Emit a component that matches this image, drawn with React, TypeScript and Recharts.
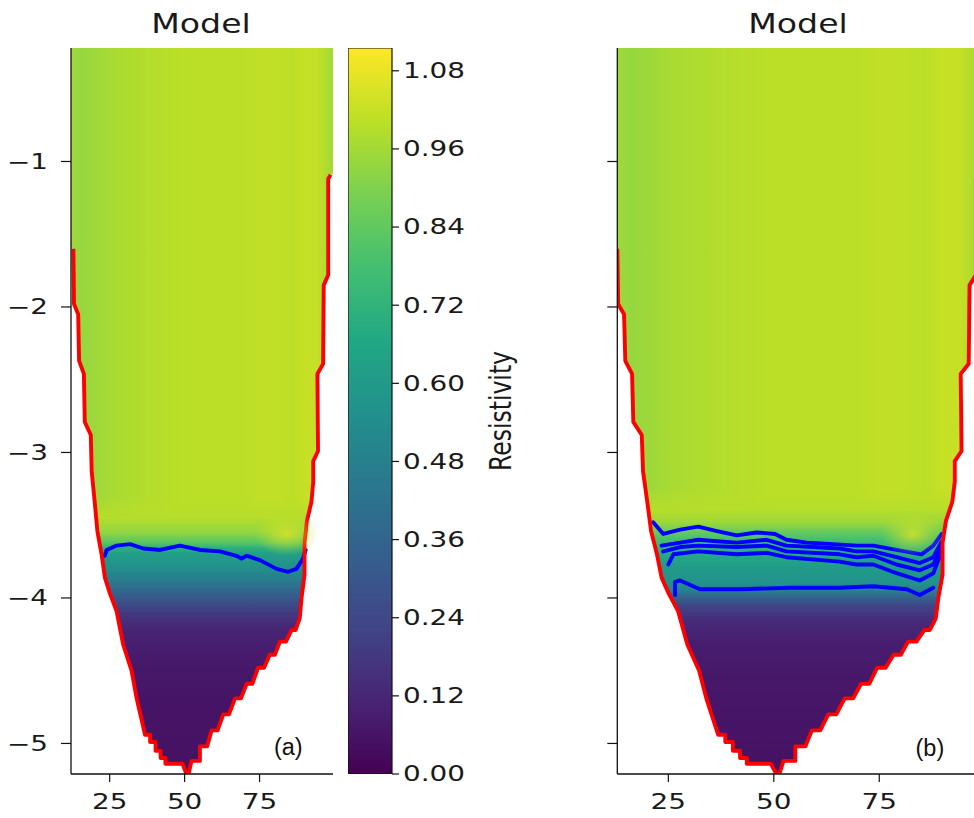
import React from 'react';
import { ComposedChart, BarChart, Bar, Area, Line, XAxis, YAxis, ReferenceDot } from 'recharts';

// ---------- colormap (viridis anchors) ----------
const VIRIDIS = ['#440154', '#482475', '#414487', '#355f8d', '#2a788e', '#21918c', '#22a884', '#44bf70', '#7ad151', '#bddf26', '#fde725'];
const CB_MAX = 1.115;

// ---------- axes ----------
const xTicks = [25, 50, 75];
const yTicks = [-5, -4, -3, -2, -1];
const cbTicks = [0, 0.12, 0.24, 0.36, 0.48, 0.6, 0.72, 0.84, 0.96, 1.08];
const DEPTH_TOP = -0.22;
const DEPTH_BOTTOM = -5.21;
const LEFT_X_DOMAIN: [number, number] = [12.1, 99.5];
const RIGHT_X_DOMAIN: [number, number] = [12.9, 100.3];
const panelTitles = ['Model', 'Model'];
const colorbarTitle = 'Resistivity';

// ---------- model boundary (red line) [x, depth] ----------
const leftEdge: [number, number][] = [
  [12.9, -1.6], [13.1, -1.98], [14.5, -2.05], [14.8, -2.37], [16.4, -2.46], [16.7, -2.79], [18.7, -2.88],
  [19.0, -3.13], [20.1, -3.36], [20.9, -3.54], [22.3, -3.7], [23.4, -3.86], [25.1, -3.97], [27.3, -4.09],
  [29.5, -4.32], [32.3, -4.5], [34.0, -4.69], [36.8, -4.94], [38.5, -4.94], [38.5, -4.99], [40.3, -4.99],
  [40.3, -5.05], [42.0, -5.05], [42.0, -5.1], [43.6, -5.1], [43.6, -5.14], [49.3, -5.14], [50.6, -5.21],
];
const rightEdge: [number, number][] = [
  [51.3, -5.21], [52.3, -5.12], [55.1, -5.12], [55.1, -5.02], [57.5, -5.02], [59.0, -4.91], [61.0, -4.91],
  [62.9, -4.8], [64.8, -4.8], [66.8, -4.69], [68.8, -4.69], [70.7, -4.59], [72.6, -4.59], [74.5, -4.48],
  [76.5, -4.48], [78.4, -4.39], [80.1, -4.39], [81.8, -4.3], [83.8, -4.3], [85.7, -4.22], [87.0, -4.22],
  [88.4, -4.14], [89.0, -4.0], [90.0, -3.84], [90.0, -3.62], [90.8, -3.47], [92.3, -3.34], [92.9, -3.2],
  [92.9, -3.06], [94.5, -2.99], [94.3, -2.46], [96.2, -2.39], [96.4, -1.85], [97.9, -1.78], [97.9, -1.12],
  [98.7, -1.09],
];

// ---------- contours (blue) ----------
const contourA: [number, number][] = [
  [23.4, -3.71], [24.0, -3.67], [27.3, -3.64], [31.8, -3.63], [36.2, -3.66], [41.8, -3.67], [48.4, -3.64],
  [55.1, -3.67], [61.8, -3.68], [67.3, -3.71], [69.0, -3.73], [70.7, -3.71], [75.1, -3.74], [80.7, -3.8],
  [84.5, -3.82], [87.3, -3.8], [89.5, -3.73], [90.4, -3.67],
];
const contourB1: [number, number][] = [
  [21.4, -3.48], [23.8, -3.56], [27.8, -3.53], [32.1, -3.51], [36.5, -3.54], [41.2, -3.57], [45.9, -3.55],
  [50.3, -3.56], [53.0, -3.6], [57.8, -3.62], [64.1, -3.63], [69.6, -3.64], [73.6, -3.64], [79.1, -3.67],
  [85.0, -3.7], [87.8, -3.64], [89.8, -3.56],
];
const contourB2: [number, number][] = [
  [23.4, -3.64], [27.8, -3.62], [32.1, -3.6], [36.5, -3.61], [41.2, -3.62], [48.3, -3.6], [53.0, -3.64],
  [59.3, -3.65], [65.6, -3.66], [69.6, -3.68], [73.6, -3.68], [79.1, -3.72], [84.6, -3.76], [87.8, -3.72],
  [89.8, -3.61],
];
const contourB3: [number, number][] = [
  [23.8, -3.68], [27.8, -3.65], [32.1, -3.64], [41.2, -3.65], [48.3, -3.64], [53.0, -3.68], [65.6, -3.7],
  [69.6, -3.72], [73.6, -3.71], [79.1, -3.77], [84.6, -3.81], [87.8, -3.77], [89.8, -3.64],
];
const contourB4: [number, number][] = [
  [25.0, -3.77], [26.2, -3.7], [32.1, -3.68], [41.2, -3.7], [48.3, -3.69], [53.0, -3.72], [65.6, -3.75],
  [69.6, -3.77], [73.6, -3.77], [79.1, -3.83], [84.6, -3.88], [87.8, -3.83], [89.8, -3.68],
];
const contourB5: [number, number][] = [
  [26.6, -3.98], [26.6, -3.89], [27.8, -3.88], [32.5, -3.94], [42.0, -3.94], [53.8, -3.93], [65.6, -3.93],
  [73.6, -3.92], [81.5, -3.94], [84.6, -3.98], [87.8, -3.93],
];

// ---------- resistivity field ----------
const lateralX = [12.1, 16, 20, 26, 32, 40, 50, 60, 70, 75, 80, 86, 90, 94, 97, 99.5];
const lateralRes = [0.95, 0.94, 0.95, 0.97, 0.98, 0.99, 1.0, 1.0, 1.0, 1.01, 1.01, 1.0, 1.02, 1.02, 0.98, 0.96];
const leftProfileDepth = [-3.3, -3.45, -3.55, -3.62, -3.66, -3.7, -3.8, -3.88, -3.96, -4.03, -4.12, -4.22, -4.4, -4.7, -5.21];
const leftProfileRes = [1.0, 0.99, 0.93, 0.82, 0.7, 0.62, 0.55, 0.46, 0.36, 0.27, 0.17, 0.11, 0.08, 0.06, 0.05];
const rightProfileDepth = [-3.25, -3.4, -3.48, -3.54, -3.6, -3.66, -3.72, -3.8, -3.9, -3.95, -4.0, -4.06, -4.15, -4.3, -4.6, -5.21];
const rightProfileRes = [1.0, 0.99, 0.95, 0.86, 0.78, 0.72, 0.66, 0.6, 0.56, 0.48, 0.34, 0.22, 0.14, 0.09, 0.07, 0.05];
const leftBlob: [number, number] = [84.0, -3.56];
const rightBlob: [number, number] = [82.9, -3.56];

// ---------- helpers ----------
const hexRgb = (h: string) => [parseInt(h.slice(1, 3), 16), parseInt(h.slice(3, 5), 16), parseInt(h.slice(5, 7), 16)];
function viridis(v: number) {
  const t = Math.max(0, Math.min(1, v / CB_MAX));
  const s = t * (VIRIDIS.length - 1);
  const i = Math.min(Math.floor(s), VIRIDIS.length - 2);
  const f = s - i;
  const a = hexRgb(VIRIDIS[i]);
  const b = hexRgb(VIRIDIS[i + 1]);
  return `rgb(${a.map((c, k) => Math.round(c + (b[k] - c) * f)).join(',')})`;
}

const TXT = '#1a1a1a';
const SX = 1.36;
const FS = 20.5;
const fmtMinus = (v: number) => (v < 0 ? `\u2212${Math.abs(v)}` : `${v}`);

const makeTick = (fmt: (v: number) => string, anchor: string, dy: string, size: number) => (p: any) => (
  <g transform={`translate(${p.x},${p.y})`}>
    <text transform={`scale(${SX},1)`} textAnchor={anchor} dy={dy} fontFamily="DejaVu Sans" fontSize={size} fill={TXT}>
      {fmt(p.payload.value)}
    </text>
  </g>
);
const emptyTick = () => <g />;

type PanelProps = {
  left: number;
  width: number;
  marginRight: number;
  yAxisWidth: number;
  xDomain: [number, number];
  prefix: string;
  depths: number[];
  res: number[];
  contours: [number, number][][];
  blob: [number, number];
  tag: string;
  tagPos: [number, number];
  showYLabels: boolean;
  title: string;
  titleCenter: number;
};

function Panel(p: PanelProps) {
  const [xmin, xmax] = p.xDomain;
  const bg = [
    { d: DEPTH_TOP, r: [xmin, xmax] },
    { d: DEPTH_BOTTOM, r: [xmin, xmax] },
  ];
  const leftCover = leftEdge.map(([x, d]) => ({ d, r: [xmin, x] }));
  const rightCover = rightEdge.map(([x, d]) => ({ d, r: [x, xmax] }));
  const outline = [...leftEdge, ...rightEdge].map(([x, d]) => ({ x, d }));
  const axisLine = { stroke: '#111', strokeWidth: 1.3 };
  const tickLine = { stroke: '#111', strokeWidth: 1.2 };
  return (
    <div style={{ position: 'absolute', left: p.left, top: 0, width: p.width, height: 818 }}>
      <div
        style={{
          position: 'absolute',
          left: p.titleCenter - p.left - 100,
          top: 10.5,
          width: 200,
          textAlign: 'center',
          fontFamily: 'DejaVu Sans',
          fontSize: 26.5,
          lineHeight: '26.5px',
          color: TXT,
          transform: 'scaleX(1.25)',
          zIndex: 2,
        }}
      >
        {p.title}
      </div>
      <ComposedChart layout="vertical" width={p.width} height={818} margin={{ top: 48, right: p.marginRight, bottom: 0, left: 0 }}>
        <defs>
          <linearGradient id={`${p.prefix}-lat`} x1="0" y1="0" x2="1" y2="0">
            {lateralX.map((x, i) => (
              <stop key={i} offset={(x - xmin) / (xmax - xmin)} stopColor={viridis(lateralRes[i])} />
            ))}
          </linearGradient>
          <linearGradient id={`${p.prefix}-vert`} x1="0" y1="0" x2="0" y2="1">
            {p.depths.map((d, i) => (
              <stop
                key={i}
                offset={(DEPTH_TOP - d) / (DEPTH_TOP - DEPTH_BOTTOM)}
                stopColor={viridis(p.res[i])}
                stopOpacity={i === 0 ? 0 : 1}
              />
            ))}
          </linearGradient>
          <radialGradient id={`${p.prefix}-blob`}>
            <stop offset="0" stopColor={viridis(1.06)} stopOpacity={0.8} />
            <stop offset="0.5" stopColor={viridis(1.04)} stopOpacity={0.4} />
            <stop offset="1" stopColor={viridis(1.02)} stopOpacity={0} />
          </radialGradient>
        </defs>
        <XAxis
          type="number"
          domain={p.xDomain}
          ticks={xTicks}
          allowDataOverflow
          height={44}
          tickSize={8}
          tickMargin={12}
          axisLine={axisLine}
          tickLine={tickLine}
          tick={makeTick((v) => `${v}`, 'middle', '0.71em', FS)}
        />
        <YAxis
          type="number"
          dataKey="d"
          domain={[DEPTH_BOTTOM, DEPTH_TOP]}
          reversed
          ticks={yTicks}
          allowDataOverflow
          width={p.yAxisWidth}
          tickSize={10}
          tickMargin={13}
          axisLine={axisLine}
          tickLine={tickLine}
          tick={p.showYLabels ? makeTick(fmtMinus, 'end', '0.36em', FS) : emptyTick}
        />
        <XAxis
          xAxisId="top"
          orientation="top"
          type="number"
          domain={p.xDomain}
          height={0}
          tick={false}
          tickLine={false}
          axisLine={axisLine}
        />
        <YAxis
          yAxisId="right"
          orientation="right"
          type="number"
          domain={[0, 1]}
          width={0}
          tick={false}
          tickLine={false}
          axisLine={axisLine}
        />
        <Area data={bg} dataKey="r" fill={`url(#${p.prefix}-lat)`} fillOpacity={1} stroke="none" dot={false} activeDot={false} isAnimationActive={false} />
        <Area data={bg} dataKey="r" fill={`url(#${p.prefix}-vert)`} fillOpacity={1} stroke="none" dot={false} activeDot={false} isAnimationActive={false} />
        <ReferenceDot
          x={p.blob[0]}
          y={p.blob[1]}
          r={1}
          shape={(s: any) => <ellipse cx={s.cx} cy={s.cy} rx={32} ry={22} fill={`url(#${p.prefix}-blob)`} />}
        />
        <Area data={leftCover} dataKey="r" fill="#ffffff" fillOpacity={1} stroke="none" dot={false} activeDot={false} isAnimationActive={false} />
        <Area data={rightCover} dataKey="r" fill="#ffffff" fillOpacity={1} stroke="none" dot={false} activeDot={false} isAnimationActive={false} />
        {p.contours.map((c, i) => (
          <Line
            key={i}
            data={c.map(([x, d]) => ({ x, d }))}
            dataKey="x"
            stroke="#0000ff"
            strokeWidth={3.9}
            strokeLinejoin="round"
            strokeLinecap="round"
            dot={false}
            activeDot={false}
            isAnimationActive={false}
          />
        ))}
        <Line data={outline} dataKey="x" stroke="#ff0000" strokeWidth={3.9} strokeLinejoin="round" dot={false} activeDot={false} isAnimationActive={false} />
        <ReferenceDot
          x={p.tagPos[0]}
          y={p.tagPos[1]}
          r={0}
          fill="none"
          stroke="none"
          label={{ value: p.tag, position: 'center', fontFamily: 'Liberation Sans, Arial, sans-serif', fontSize: 23.5, fill: '#111' }}
        />
      </ComposedChart>
    </div>
  );
}

const cbData = [{ name: 'cb', v: [0, CB_MAX] }];

const cbLabel = (props: any) => {
  const vb = props.viewBox || {};
  return (
    <g transform={`translate(${vb.x + 108},${vb.y + vb.height / 2}) scale(1.3,1) rotate(-90)`}>
      <text textAnchor="middle" dy="0.36em" fontFamily="DejaVu Sans" fontSize={23.5} fill={TXT}>
        {colorbarTitle}
      </text>
    </g>
  );
};

function ColorBar() {
  return (
    <div style={{ position: 'absolute', left: 348, top: 0 }}>
      <BarChart width={180} height={818} data={cbData} margin={{ top: 48, right: 0, bottom: 44, left: 0 }} barCategoryGap={0} barGap={0}>
        <defs>
          <linearGradient id="cbGrad" x1="0" y1="1" x2="0" y2="0">
            {VIRIDIS.map((c, i) => (
              <stop key={i} offset={i / (VIRIDIS.length - 1)} stopColor={c} />
            ))}
          </linearGradient>
        </defs>
        <XAxis dataKey="name" hide />
        <YAxis
          orientation="right"
          type="number"
          domain={[0, CB_MAX]}
          ticks={cbTicks}
          allowDataOverflow
          width={136}
          tickSize={7}
          tickMargin={4}
          axisLine={false}
          tickLine={{ stroke: '#111', strokeWidth: 1.2 }}
          tick={makeTick((v) => v.toFixed(2), 'start', '0.36em', FS)}
          label={cbLabel}
        />
        <Bar dataKey="v" fill="url(#cbGrad)" stroke="#111" strokeWidth={1.2} isAnimationActive={false} />
      </BarChart>
    </div>
  );
}

export default function App() {
  return (
    <div style={{ position: 'absolute', left: 0, top: 0, width: 974, height: 818, overflow: 'hidden', background: '#ffffff' }}>
      <Panel
        left={0}
        width={345}
        marginRight={12}
        yAxisWidth={71}
        xDomain={LEFT_X_DOMAIN}
        prefix="pa"
        depths={leftProfileDepth}
        res={leftProfileRes}
        contours={[contourA]}
        blob={leftBlob}
        tag="(a)"
        tagPos={[84.6, -5.02]}
        showYLabels
        title={panelTitles[0]}
        titleCenter={201}
      />
      <ColorBar />
      <Panel
        left={540}
        width={460}
        marginRight={14}
        yAxisWidth={77.3}
        xDomain={RIGHT_X_DOMAIN}
        prefix="pb"
        depths={rightProfileDepth}
        res={rightProfileRes}
        contours={[contourB1, contourB2, contourB3, contourB4, contourB5]}
        blob={rightBlob}
        tag="(b)"
        tagPos={[87.0, -5.03]}
        showYLabels={false}
        title={panelTitles[1]}
        titleCenter={798}
      />
    </div>
  );
}
